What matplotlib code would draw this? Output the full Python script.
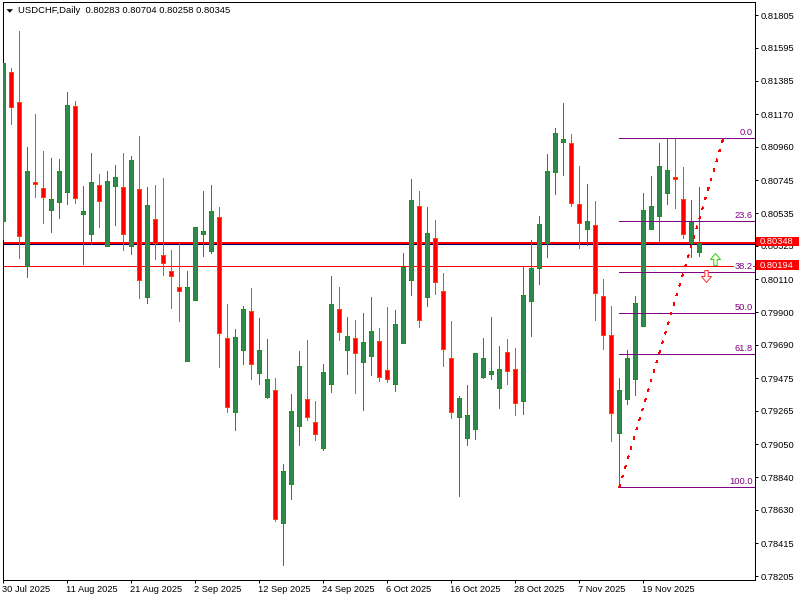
#!/usr/bin/env python3
"""USDCHF daily candles with fibonacci levels, MT4 style."""
import numpy as np
import matplotlib
matplotlib.use('Agg')
import matplotlib.pyplot as plt
from matplotlib.patches import Polygon, Rectangle
from matplotlib.path import Path
from matplotlib.transforms import ScaledTranslation, offset_copy

opens = [80486, 81441, 81248, 80195, 80735, 80696, 80555, 80608, 80672, 81222,
         80529, 80403, 80715, 80326, 80709, 80702, 80326, 80690, 79998, 80497,
         80266, 80163, 80060, 79587, 79977, 80401, 80294, 80510, 79733, 79260,
         79656, 79906, 79510, 79356, 79399, 78545, 78798, 79170, 79341, 79194,
         79029, 79440, 79919, 79656, 79733, 79581, 79617, 79714, 79528, 79440,
         79703, 80107, 80580, 79998, 80375, 80035, 79605, 79228, 79093, 79151,
         79485, 79504, 79414, 79643, 79534, 79331, 79973, 80184, 80341, 80801,
         80991, 80985, 80593, 80435, 80459, 80003, 79752, 79125, 79343, 79472,
         79812, 80435, 80518, 80666, 80767, 80625, 80341, 80283]
highs = [81498, 81464, 81704, 80959, 81171, 80934, 80889, 80882, 81312, 81255,
         80709, 80921, 80786, 80805, 80844, 80921, 80901, 81030, 80702, 80715,
         80760, 80298, 80343, 80163, 80446, 80677, 80715, 80574, 79951, 79791,
         79938, 80054, 79861, 79727, 79476, 78924, 79374, 79650, 79720, 79329,
         79566, 80131, 80060, 79868, 79849, 79894, 79996, 79797, 79932, 79913,
         80279, 80754, 80677, 80574, 80491, 80150, 79842, 79361, 79431, 79637,
         79733, 79868, 79682, 79727, 79669, 80191, 80362, 80516, 80914, 81081,
         81242, 81043, 80837, 80722, 80613, 80112, 79938, 79476, 79656, 80003,
         80664, 80773, 80985, 81017, 81017, 80831, 80619, 80704]
lows = [80370, 81107, 80249, 80127, 80640, 80473, 80416, 80503, 80593, 80600,
        80208, 80337, 80448, 80326, 80459, 80298, 80272, 79992, 79960, 80240,
        80137, 79926, 79842, 79587, 79977, 80259, 80281, 79549, 79260, 79142,
        79566, 79470, 79438, 79348, 78558, 78276, 78699, 79046, 79207, 79078,
        79014, 79386, 79720, 79502, 79380, 79271, 79495, 79457, 79451, 79393,
        79703, 80009, 79804, 79938, 80016, 79555, 79219, 78719, 79046, 79085,
        79476, 79470, 79284, 79438, 79239, 79245, 79748, 80082, 80253, 80658,
        80781, 80580, 80311, 80330, 79849, 79662, 79074, 78775, 79309, 79367,
        79812, 80435, 80341, 80593, 80568, 80375, 80253, 80258]
closes = [81498, 81218, 80390, 80805, 80722, 80640, 80625, 80805, 81229, 80634,
          80548, 80735, 80615, 80741, 80767, 80403, 80876, 80107, 80587, 80341,
          80216, 80133, 80037, 80060, 80446, 80420, 80548, 79767, 79292, 79739,
          79919, 79568, 79656, 79470, 78571, 78879, 79264, 79553, 79228, 79119,
          79515, 79951, 79773, 79746, 79639, 79707, 79778, 79485, 79472, 79823,
          80189, 80619, 79851, 80407, 80094, 79664, 79260, 79348, 79239, 79637,
          79605, 79521, 79534, 79523, 79318, 80009, 80182, 80465, 80805, 81049,
          81011, 80602, 80473, 80484, 80024, 79754, 79250, 79399, 79605, 79958,
          80555, 80580, 80837, 80812, 80756, 80403, 80478, 80345]

y_ticks = [0.81805, 0.81595, 0.81385, 0.81170, 0.80960, 0.80745, 0.80535, 0.80325, 0.80110,
           0.79900, 0.79690, 0.79475, 0.79265, 0.79050, 0.78840, 0.78630, 0.78415, 0.78205]
x_tick_pos = [0, 8, 16, 24, 32, 40, 48, 56, 64, 72, 80]
x_tick_labels = ['30 Jul 2025', '11 Aug 2025', '21 Aug 2025', '2 Sep 2025', '12 Sep 2025',
                 '24 Sep 2025', '6 Oct 2025', '16 Oct 2025', '28 Oct 2025', '7 Nov 2025',
                 '19 Nov 2025']
fib_names = ['0.0', '23.6', '38.2', '50.0', '61.8', '100.0']
fib_prices = [0.81015, 0.80486, 0.80159, 0.79895, 0.79631, 0.78775]
fib_start = 77
trend_x = [77, 90]
trend_y = [0.78775, 0.81015]
level_prices = [0.80345, 0.80194]
level_names = ['0.80348', '0.80194']
bid_price = 0.80335

FONT = 'Liberation Sans'
SIZE = 6.7
PX = 0.72  # one pixel in points at 100 dpi
PRICE_PX = 6.42e-5  # price per pixel

O = np.array(opens) / 1e5
H = np.array(highs) / 1e5
L = np.array(lows) / 1e5
C = np.array(closes) / 1e5
X = np.arange(len(O))
up = C >= O

fig = plt.figure(figsize=(8, 6), dpi=100, facecolor='white')
ax = fig.add_axes([2.5 / 800, 1 - 579.5 / 600, 752 / 800, 577.5 / 600])
ax.set_xlim(-0.1, 93.9)
ax.set_ylim(0.78183, 0.81890)

# levels go under the candles
ax.axhline(bid_price, color='#000060', lw=PX, zorder=1, antialiased=False)
ax.axhline(level_prices[0], color='#ff0000', lw=2 * PX, zorder=1.5, antialiased=False)
ax.axhline(level_prices[1], color='#ff0000', lw=PX, zorder=1.5, antialiased=False)

ax.vlines(X[up], L[up], H[up], color='#228b22', lw=PX, zorder=3, antialiased=False)
ax.vlines(X[~up], L[~up], H[~up], color='#ff4500', lw=PX, zorder=3, antialiased=False)
ax.bar(X[up], (C - O)[up], bottom=O[up], width=0.5, facecolor='#2e8b4d',
       edgecolor='#228b22', lw=PX, zorder=4, antialiased=False)
ax.bar(X[~up], (O - C)[~up], bottom=C[~up], width=0.5, facecolor='#ff0000',
       edgecolor='#ff4500', lw=PX, zorder=4, antialiased=False)

# fibonacci levels
ax.hlines(fib_prices, fib_start, ax.get_xlim()[1], color='#800080', lw=PX, zorder=5, antialiased=False)
ax.plot(trend_x, trend_y, color='#ff0000', lw=PX, ls=(0, (2.5, 7)), zorder=5, antialiased=False)
label_tr = offset_copy(ax.get_yaxis_transform(), fig=fig, x=-2, y=1, units='dots')
for name, price in zip(fib_names, fib_prices):
    ax.text(1, price, name, transform=label_tr, ha='right', va='bottom', color='#800080',
            family=FONT, fontsize=SIZE, zorder=6,
            bbox=dict(boxstyle='square,pad=0.05', fc='white', ec='none'))

# buy / sell arrows
up_arrow = Path([(-1.7, -6), (1.7, -6), (1.7, 0), (5, 0), (0, 6), (-5, 0), (-1.7, 0), (-1.7, -6)], closed=True)
down_arrow = Path([(-1.7, 6), (1.7, 6), (1.7, 0), (5, 0), (0, -6), (-5, 0), (-1.7, 0), (-1.7, 6)], closed=True)
ax.plot([89], [0.80240], marker=up_arrow, ms=8.6, mfc='#ffffe0', mec='#32cd32', mew=PX, zorder=6)
ax.plot([87.8], [0.80134], marker=down_arrow, ms=8.6, mfc='#ffffff', mec='#ff3030', mew=PX, zorder=6)

ax.yaxis.tick_right()
ax.set_yticks(y_ticks)
ax.set_yticklabels(['%.5f' % v for v in y_ticks], family=FONT, fontsize=SIZE)
ax.set_xticks(x_tick_pos)
ax.set_xticklabels(x_tick_labels, family=FONT, fontsize=SIZE, ha='left')
ax.tick_params(axis='y', length=2.2, width=PX, pad=2, color='black')
ax.tick_params(axis='x', length=2.2, width=PX, pad=1.5, color='black')
x_shift = ScaledTranslation(-1.5 / 100, 0, fig.dpi_scale_trans)
for lab in ax.get_xticklabels():
    lab.set_transform(lab.get_transform() + x_shift)
for spine in ax.spines.values():
    spine.set_linewidth(PX)
    spine.set_antialiased(False)

# price tags on the right scale
yax = ax.get_yaxis_transform()
for price, name in zip(level_prices, level_names):
    ax.add_patch(Rectangle((1.002, price - 3.8 * PRICE_PX), 0.0572, 9.8 * PRICE_PX, transform=yax,
                           fc='#ff0000', ec='none', clip_on=False, zorder=9))
    ax.text(1.0073, price + 1.1 * PRICE_PX, name, transform=yax, va='center', ha='left',
            color='white', family=FONT, fontsize=SIZE, zorder=10, clip_on=False)

# header
fig.add_artist(Polygon([(6.5 / 800, 1 - 9.2 / 600), (13 / 800, 1 - 9.2 / 600), (9.75 / 800, 1 - 12.8 / 600)],
                       closed=True, fc='black', ec='none', transform=fig.transFigure))
fig.text(18 / 800, 1 - 10.5 / 600, 'USDCHF,Daily  0.80283 0.80704 0.80258 0.80345', color='black',
         family=FONT, fontsize=SIZE + 0.1, va='center')

fig.savefig('out.png', dpi=100)
